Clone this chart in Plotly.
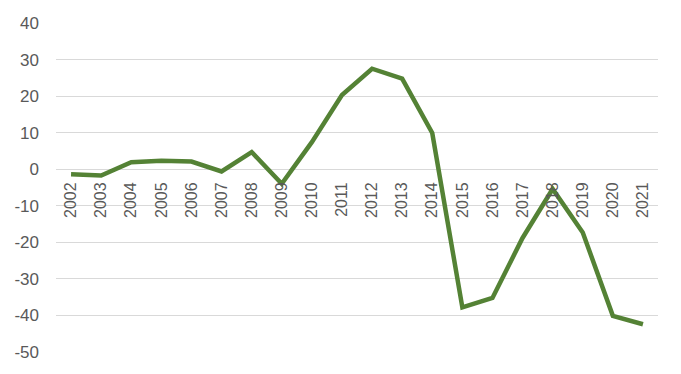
import plotly.graph_objects as go

years = [str(y) for y in range(2002, 2022)]
values = [-1.4, -1.7, 1.9, 2.3, 2.1, -0.6, 4.7, -4.0, 7.4, 20.3,
          27.5, 24.8, 9.9, -37.8, -35.2, -18.8, -5.4, -17.3, -40.1, -42.4]
y_ticks = [40, 30, 20, 10, 0, -10, -20, -30, -40, -50]
y_tick_text = [str(v) for v in y_ticks]

ymin, ymax = -50, 40

fig = go.Figure(go.Scatter(
    x=years, y=values, mode="lines",
    line=dict(color="#548235", width=4.5),
    hoverinfo="skip",
))

yfont = dict(family="Liberation Sans, Arial, sans-serif", size=17, color="#595959")
xfont = dict(family="Liberation Sans, Arial, sans-serif", size=16, color="#595959")

fig.update_layout(
    width=681, height=374,
    margin=dict(l=56, r=23, t=23, b=22),
    paper_bgcolor="white", plot_bgcolor="white",
    showlegend=False,
    xaxis=dict(
        type="category",
        range=[-0.5, len(years) - 0.5],
        anchor="free",
        position=(0 - ymin) / (ymax - ymin),
        tickangle=-90,
        tickfont=xfont,
        showgrid=False,
        showline=False,
        zeroline=False,
        ticks="",
        ticklabelstandoff=9,
    ),
    yaxis=dict(
        range=[ymin, ymax],
        tickvals=y_ticks,
        ticktext=y_tick_text,
        tickfont=yfont,
        showgrid=True,
        gridcolor="#d9d9d9",
        gridwidth=1.3,
        zeroline=True,
        zerolinecolor="#d9d9d9",
        zerolinewidth=1.3,
        showline=False,
        ticks="",
        ticklabelstandoff=16,
    ),
)

fig.write_html("out.html")
